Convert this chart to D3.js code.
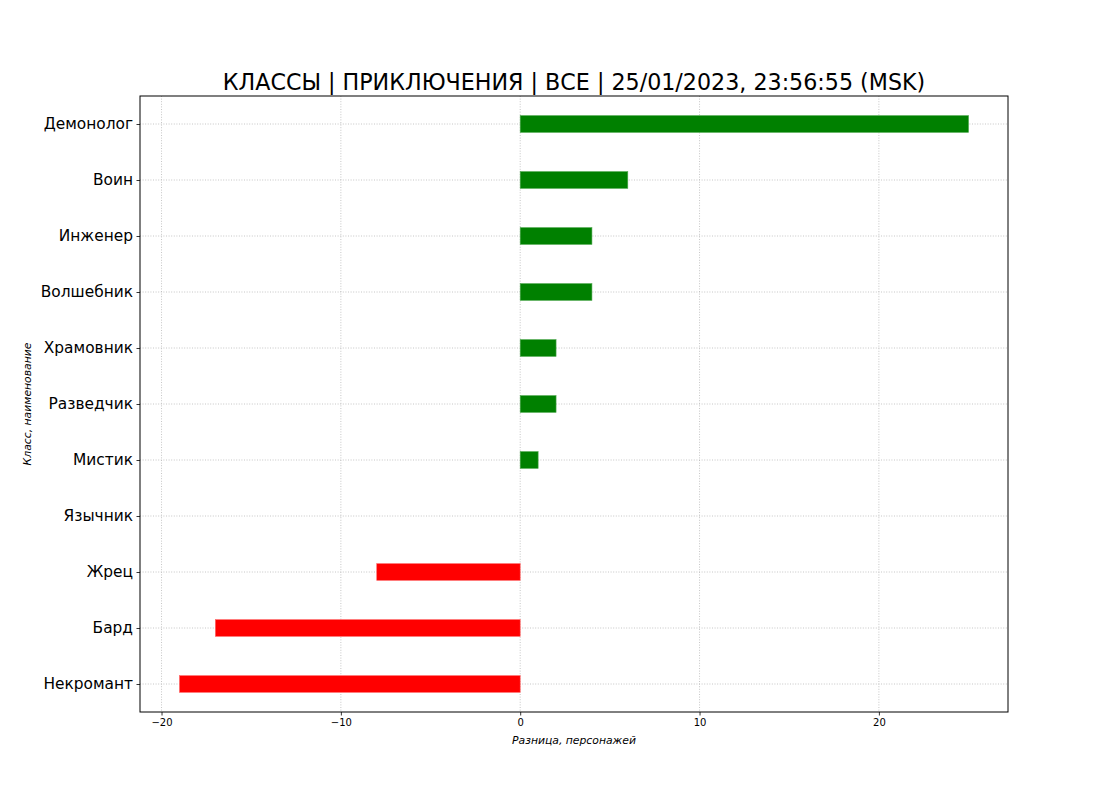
<!DOCTYPE html>
<html><head><meta charset="utf-8">
<script src="https://cdn.jsdelivr.net/npm/d3@7"></script>
<style>body{margin:0;background:#fff}svg{font-family:"DejaVu Sans",sans-serif}</style>
</head><body>
<script>
const categories = ["Демонолог","Воин","Инженер","Волшебник","Храмовник","Разведчик","Мистик","Язычник","Жрец","Бард","Некромант"];
const values = [25, 6, 4, 4, 2, 2, 1, 0, -8, -17, -19];
const xTicks = [-20, -10, 0, 10, 20];
const title = "КЛАССЫ | ПРИКЛЮЧЕНИЯ | ВСЕ | 25/01/2023, 23:56:55 (MSK)";
const xLabel = "Разница, персонажей";
const yLabel = "Класс, наименование";

const W = 1120, H = 800;
const L = 140, R = 1008, T = 96, B = 712;
const svg = d3.select("body").append("svg").attr("width", W).attr("height", H);

const x = d3.scaleLinear().domain([-21.2, 27.2]).range([L, R]);
const n = categories.length;
const y = d3.scaleLinear().domain([-0.5, n - 0.5]).range([T, B]);
const barH = 0.3;

// grid
const g = svg.append("g");
g.selectAll("line.vg").data(xTicks).join("line")
  .attr("x1", d => x(d)).attr("x2", d => x(d)).attr("y1", T).attr("y2", B)
  .attr("stroke", "#b8b8b8").attr("stroke-width", 0.8).attr("stroke-dasharray", "1,1.6");
g.selectAll("line.hg").data(categories).join("line")
  .attr("x1", L).attr("x2", R).attr("y1", (d, i) => y(i)).attr("y2", (d, i) => y(i))
  .attr("stroke", "#b8b8b8").attr("stroke-width", 0.8).attr("stroke-dasharray", "1,1.6");

// bars
svg.append("g").selectAll("rect").data(values).join("rect")
  .attr("x", d => x(Math.min(0, d)))
  .attr("width", d => Math.abs(x(d) - x(0)))
  .attr("y", (d, i) => y(i - barH / 2))
  .attr("height", y(barH) - y(0))
  .attr("fill", d => d >= 0 ? "#008000" : "#ff0000")
  .attr("stroke", d => d >= 0 ? "#4fa84f" : "#ff6a6a")
  .attr("stroke-width", d => d === 0 ? 0 : 0.6);

// axes
const xAxis = d3.axisBottom(x).tickValues(xTicks).tickSize(3.5).tickPadding(3.5)
  .tickFormat(d => d < 0 ? "\u2212" + Math.abs(d) : d);
const xg = svg.append("g").attr("transform", `translate(0,${B})`).call(xAxis);
xg.select(".domain").remove();
xg.selectAll("text").attr("font-size", 10).attr("font-family", "DejaVu Sans").attr("fill", "#000");
xg.selectAll("line").attr("stroke", "#000").attr("stroke-width", 0.8);

const yAxis = d3.axisLeft(y).tickValues(d3.range(n)).tickFormat(i => categories[i]).tickSize(3.5).tickPadding(3.5);
const yg = svg.append("g").attr("transform", `translate(${L},0)`).call(yAxis);
yg.select(".domain").remove();
yg.selectAll("text").attr("font-size", 15.4).attr("font-family", "DejaVu Sans").attr("fill", "#000");
yg.selectAll("line").attr("stroke", "#000").attr("stroke-width", 0.8);

// frame
svg.append("rect").attr("x", L).attr("y", T).attr("width", R - L).attr("height", B - T)
  .attr("fill", "none").attr("stroke", "#000").attr("stroke-width", 1);

// labels
svg.append("text").attr("x", (L + R) / 2).attr("y", 90).attr("text-anchor", "middle")
  .attr("font-size", 22.2).attr("fill", "#000").text(title);
svg.append("text").attr("x", (L + R) / 2).attr("y", 744).attr("text-anchor", "middle")
  .attr("font-size", 10.8).attr("font-style", "italic").attr("fill", "#000").text(xLabel);
svg.append("text").attr("transform", `translate(31,${(T + B) / 2}) rotate(-90)`).attr("text-anchor", "middle")
  .attr("font-size", 10.8).attr("font-style", "italic").attr("fill", "#000").text(yLabel);
</script>
</body></html>
